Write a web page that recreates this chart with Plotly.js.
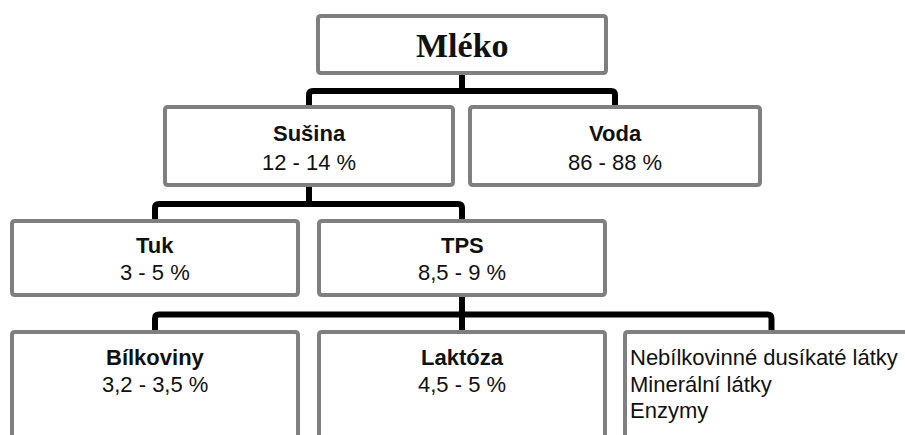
<!DOCTYPE html>
<html>
<head>
<meta charset="utf-8">
<script src="https://cdn.plot.ly/plotly-3.0.1.min.js"></script>
<style>html,body{margin:0;padding:0;background:#fff;}#chart{width:905px;height:435px;}</style>
</head>
<body>
<div id="chart"></div>
<script>
// ---- data ----
const nodeNames   = ['Mléko', 'Sušina', 'Voda', 'Tuk', 'TPS', 'Bílkoviny', 'Laktóza', 'Ostatní'];
const nodeValues  = ['', '12 - 14 %', '86 - 88 %', '3 - 5 %', '8,5 - 9 %', '3,2 - 3,5 %', '4,5 - 5 %', ''];
const nodeParents = ['', 'Mléko', 'Mléko', 'Sušina', 'Sušina', 'TPS', 'TPS', 'TPS'];
const otherItems  = ['Nebílkovinné dusíkaté látky', 'Minerální látky', 'Enzymy'];

// ---- layout geometry (pixels in a 905x435 frame) ----
const boxGeom = {
  'Mléko':     {x0: 316, x1: 608, y0: 14,  y1: 75},
  'Sušina':    {x0: 163, x1: 455, y0: 105, y1: 187},
  'Voda':      {x0: 468, x1: 762, y0: 105, y1: 187},
  'Tuk':       {x0: 10,  x1: 300, y0: 219, y1: 297},
  'TPS':       {x0: 317, x1: 607, y0: 219, y1: 297},
  'Bílkoviny': {x0: 10,  x1: 300, y0: 330, y1: 450},
  'Laktóza':   {x0: 317, x1: 607, y0: 330, y1: 450},
  'Ostatní':   {x0: 623, x1: 920, y0: 330, y1: 450}
};
const textRows = {
  'Mléko': [45],
  'Sušina': [133, 162], 'Voda': [133, 162],
  'Tuk': [245, 272], 'TPS': [245, 272],
  'Bílkoviny': [357, 384], 'Laktóza': [357, 384],
  'Ostatní': [357, 384, 410]
};

const BORDER = '#7f7f7f', BW = 4, LINK = '#000000', LW = 6;
const sansFont = 'Liberation Sans, Arial, sans-serif';
const FS = 22;

function roundRect(g, r) {
  const h = BW / 2;
  const x0 = g.x0 + h, x1 = g.x1 - h, y0 = g.y0 + h, y1 = g.y1 - h;
  return `M${x0 + r},${y0} L${x1 - r},${y0} Q${x1},${y0} ${x1},${y0 + r} L${x1},${y1 - r} Q${x1},${y1} ${x1 - r},${y1} L${x0 + r},${y1} Q${x0},${y1} ${x0},${y1 - r} L${x0},${y0 + r} Q${x0},${y0} ${x0 + r},${y0} Z`;
}

const shapes = [];
const annotations = [];

// connectors: group children by parent
const parentsSeen = [];
nodeParents.forEach(p => { if (p && parentsSeen.indexOf(p) < 0) parentsSeen.push(p); });
parentsSeen.forEach(p => {
  const pg = boxGeom[p];
  const px = (pg.x0 + pg.x1) / 2;
  const kids = nodeNames.filter((n, i) => nodeParents[i] === p);
  const kidX = kids.map(k => (boxGeom[k].x0 + boxGeom[k].x1) / 2);
  const childTop = Math.min(...kids.map(k => boxGeom[k].y0));
  const midY = (pg.y1 + childTop) / 2 + 1;
  shapes.push({type: 'line', xref: 'x', yref: 'y', x0: px, x1: px, y0: pg.y1, y1: midY, line: {color: LINK, width: LW}, layer: 'below'});
  const xl = Math.min(...kidX), xr = Math.max(...kidX);
  const r = 4;
  const path = `M${xl},${childTop} L${xl},${midY + r} Q${xl},${midY} ${xl + r},${midY} L${xr - r},${midY} Q${xr},${midY} ${xr},${midY + r} L${xr},${childTop}`;
  shapes.push({type: 'path', xref: 'x', yref: 'y', path: path, line: {color: LINK, width: LW}, layer: 'below'});
  kidX.forEach(kx => {
    if (kx !== xl && kx !== xr) {
      shapes.push({type: 'line', xref: 'x', yref: 'y', x0: kx, x1: kx, y0: midY, y1: childTop, line: {color: LINK, width: LW}, layer: 'below'});
    }
  });
});

// boxes and texts
nodeNames.forEach((name, i) => {
  const g = boxGeom[name];
  shapes.push({type: 'path', xref: 'x', yref: 'y', path: roundRect(g, 3), fillcolor: '#ffffff', line: {color: BORDER, width: BW}, layer: 'above'});
  const cx = (g.x0 + g.x1) / 2;
  const rows = textRows[name];
  if (name === 'Mléko') {
    annotations.push({x: cx, y: rows[0], xref: 'x', yref: 'y', text: '<b>' + name + '</b>', showarrow: false,
      font: {family: 'Liberation Serif, Times New Roman, serif', size: 34, color: '#111'}, xanchor: 'center', yanchor: 'middle'});
  } else if (name === 'Ostatní') {
    otherItems.forEach((t, j) => {
      annotations.push({x: g.x0 + 5, y: rows[j], xref: 'x', yref: 'y', text: t, showarrow: false,
        font: {family: sansFont, size: FS, color: '#111'}, xanchor: 'left', yanchor: 'middle'});
    });
  } else {
    annotations.push({x: cx, y: rows[0], xref: 'x', yref: 'y', text: '<b>' + name + '</b>', showarrow: false,
      font: {family: sansFont, size: FS, color: '#111'}, xanchor: 'center', yanchor: 'middle'});
    annotations.push({x: cx, y: rows[1], xref: 'x', yref: 'y', text: nodeValues[i], showarrow: false,
      font: {family: sansFont, size: FS, color: '#111'}, xanchor: 'center', yanchor: 'middle'});
  }
});

const layout = {
  width: 905, height: 435,
  margin: {l: 0, r: 0, t: 0, b: 0},
  paper_bgcolor: '#ffffff', plot_bgcolor: '#ffffff',
  xaxis: {range: [0, 905], visible: false, fixedrange: true},
  yaxis: {range: [435, 0], visible: false, fixedrange: true},
  shapes: shapes,
  annotations: annotations,
  showlegend: false
};

Plotly.newPlot('chart', [{x: [], y: [], type: 'scatter', mode: 'markers', hoverinfo: 'skip'}], layout, {staticPlot: true, displayModeBar: false});
</script>
</body>
</html>
